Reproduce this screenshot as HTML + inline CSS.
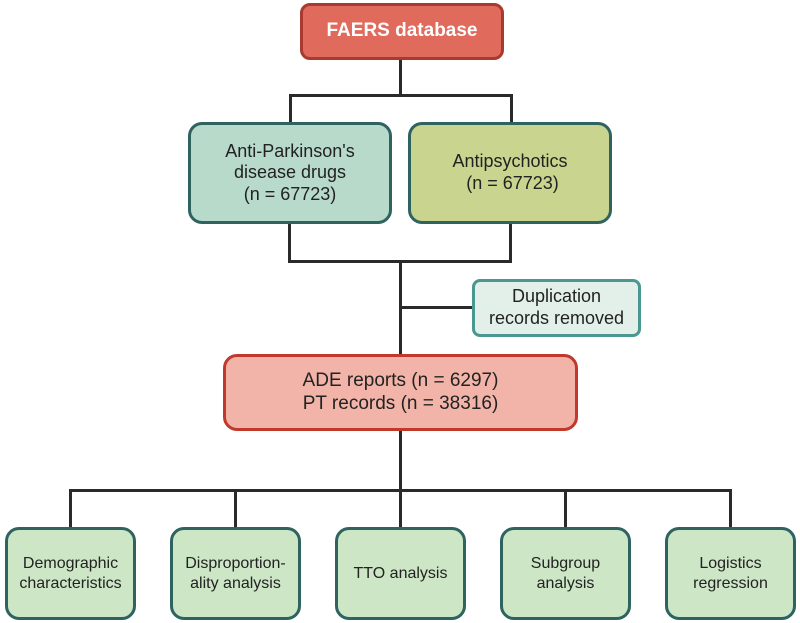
<!DOCTYPE html>
<html><head><style>
body{margin:0;width:800px;height:623px;background:#fff;font-family:"Liberation Sans",sans-serif;position:relative;overflow:hidden}
.b{position:absolute;box-sizing:border-box;border:3px solid #2f6360;border-radius:14px;display:flex;align-items:center;justify-content:center;text-align:center;color:#222;line-height:1.2}
.l{position:absolute;background:#2a2a2a}
</style></head><body>
<div class="l" style="left:399px;top:58px;width:3px;height:38px"></div>
<div class="l" style="left:289px;top:94px;width:224px;height:3px"></div>
<div class="l" style="left:289px;top:94px;width:3px;height:30px"></div>
<div class="l" style="left:510px;top:94px;width:3px;height:30px"></div>
<div class="l" style="left:288px;top:222px;width:3px;height:41px"></div>
<div class="l" style="left:509px;top:222px;width:3px;height:41px"></div>
<div class="l" style="left:288px;top:260px;width:224px;height:3px"></div>
<div class="l" style="left:399px;top:260px;width:3px;height:96px"></div>
<div class="l" style="left:399px;top:306px;width:74px;height:3px"></div>
<div class="l" style="left:399px;top:429px;width:3px;height:62px"></div>
<div class="l" style="left:69px;top:489px;width:663px;height:3px"></div>
<div class="l" style="left:69px;top:489px;width:3px;height:40px"></div>
<div class="l" style="left:234px;top:489px;width:3px;height:40px"></div>
<div class="l" style="left:399px;top:489px;width:3px;height:40px"></div>
<div class="l" style="left:564px;top:489px;width:3px;height:40px"></div>
<div class="l" style="left:729px;top:489px;width:3px;height:40px"></div>

<div class="b" style="left:300px;top:3px;width:204px;height:57px;background:#e06a5b;border-color:#a83a30;border-radius:10px;color:#fff;font-weight:bold;font-size:19px">FAERS database</div>
<div class="b" style="left:188px;top:122px;width:204px;height:102px;background:#b8dacb;font-size:18px">Anti-Parkinson's<br>disease drugs<br>(n = 67723)</div>
<div class="b" style="left:408px;top:122px;width:204px;height:102px;background:#c9d48f;font-size:18px">Antipsychotics<br>&nbsp;(n = 67723)</div>
<div class="b" style="left:472px;top:279px;width:169px;height:58px;background:#e3f0ea;border-color:#4a9690;border-radius:8px;font-size:18px">Duplication<br>records removed</div>
<div class="b" style="left:223px;top:354px;width:355px;height:77px;background:#f2b4a8;border-color:#c0392b;font-size:19px">ADE reports (n = 6297)<br>PT records (n = 38316)</div>
<div class="b" style="left:5px;top:527px;width:131px;height:93px;background:#cde6c6;font-size:16px">Demographic<br>characteristics</div>
<div class="b" style="left:170px;top:527px;width:131px;height:93px;background:#cde6c6;font-size:16px">Disproportion-<br>ality analysis</div>
<div class="b" style="left:335px;top:527px;width:131px;height:93px;background:#cde6c6;font-size:16px">TTO analysis</div>
<div class="b" style="left:500px;top:527px;width:131px;height:93px;background:#cde6c6;font-size:16px">Subgroup<br>analysis</div>
<div class="b" style="left:665px;top:527px;width:131px;height:93px;background:#cde6c6;font-size:16px">Logistics<br>regression</div>
</body></html>
